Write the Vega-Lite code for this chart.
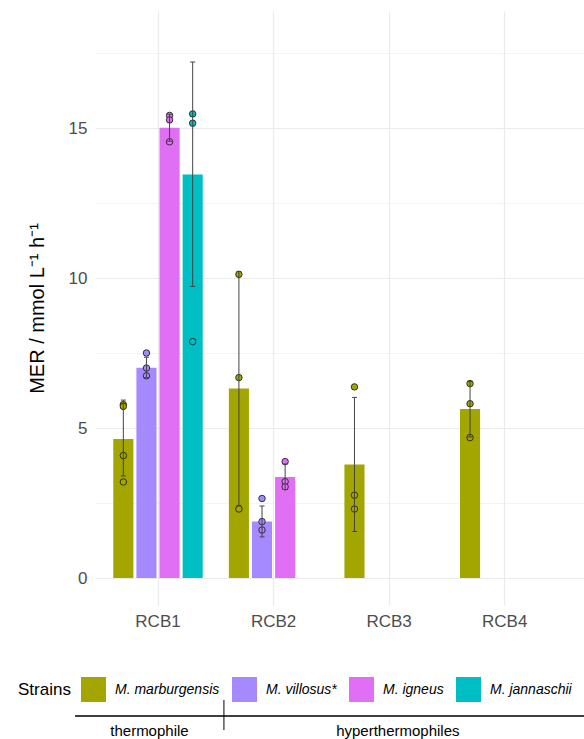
{
  "$schema": "https://vega.github.io/schema/vega-lite/v6.json",
  "background": "white",
  "padding": {"left": 18, "top": 11, "right": 0, "bottom": 0},
  "spacing": 70,
  "config": {
    "font": "Liberation Sans",
    "view": {"stroke": null}
  },
  "datasets": {
    "bars": [
      {"rcb": "RCB1", "strain": "M. marburgensis", "mean": 4.63, "lo": 3.40, "hi": 5.93},
      {"rcb": "RCB1", "strain": "M. villosus*", "mean": 7.01, "lo": 6.68, "hi": 7.36},
      {"rcb": "RCB1", "strain": "M. igneus", "mean": 15.01, "lo": 14.56, "hi": 15.46},
      {"rcb": "RCB1", "strain": "M. jannaschii", "mean": 13.45, "lo": 9.72, "hi": 17.20},
      {"rcb": "RCB2", "strain": "M. marburgensis", "mean": 6.32, "lo": 2.42, "hi": 10.22},
      {"rcb": "RCB2", "strain": "M. villosus*", "mean": 1.88, "lo": 1.37, "hi": 2.40},
      {"rcb": "RCB2", "strain": "M. igneus", "mean": 3.37, "lo": 2.95, "hi": 3.80},
      {"rcb": "RCB3", "strain": "M. marburgensis", "mean": 3.78, "lo": 1.55, "hi": 6.02},
      {"rcb": "RCB4", "strain": "M. marburgensis", "mean": 5.63, "lo": 4.70, "hi": 6.55}
    ],
    "points": [
      {"rcb": "RCB1", "strain": "M. marburgensis", "value": 5.78},
      {"rcb": "RCB1", "strain": "M. marburgensis", "value": 5.72},
      {"rcb": "RCB1", "strain": "M. marburgensis", "value": 4.08},
      {"rcb": "RCB1", "strain": "M. marburgensis", "value": 3.20},
      {"rcb": "RCB1", "strain": "M. villosus*", "value": 7.50},
      {"rcb": "RCB1", "strain": "M. villosus*", "value": 7.00},
      {"rcb": "RCB1", "strain": "M. villosus*", "value": 6.74},
      {"rcb": "RCB1", "strain": "M. igneus", "value": 15.42},
      {"rcb": "RCB1", "strain": "M. igneus", "value": 15.27},
      {"rcb": "RCB1", "strain": "M. igneus", "value": 14.54},
      {"rcb": "RCB1", "strain": "M. jannaschii", "value": 15.47},
      {"rcb": "RCB1", "strain": "M. jannaschii", "value": 15.16},
      {"rcb": "RCB1", "strain": "M. jannaschii", "value": 7.88},
      {"rcb": "RCB2", "strain": "M. marburgensis", "value": 10.12},
      {"rcb": "RCB2", "strain": "M. marburgensis", "value": 6.68},
      {"rcb": "RCB2", "strain": "M. marburgensis", "value": 2.30},
      {"rcb": "RCB2", "strain": "M. villosus*", "value": 2.65},
      {"rcb": "RCB2", "strain": "M. villosus*", "value": 1.88},
      {"rcb": "RCB2", "strain": "M. villosus*", "value": 1.60},
      {"rcb": "RCB2", "strain": "M. igneus", "value": 3.88},
      {"rcb": "RCB2", "strain": "M. igneus", "value": 3.21},
      {"rcb": "RCB2", "strain": "M. igneus", "value": 3.04},
      {"rcb": "RCB3", "strain": "M. marburgensis", "value": 6.37},
      {"rcb": "RCB3", "strain": "M. marburgensis", "value": 2.76},
      {"rcb": "RCB3", "strain": "M. marburgensis", "value": 2.30},
      {"rcb": "RCB4", "strain": "M. marburgensis", "value": 6.48},
      {"rcb": "RCB4", "strain": "M. marburgensis", "value": 5.81},
      {"rcb": "RCB4", "strain": "M. marburgensis", "value": 4.68}
    ],
    "groups": [
      {"group": "thermophile", "start": 0, "end": 0.292, "mid": 0.146},
      {"group": "hyperthermophiles", "start": 0.292, "end": 0.974, "mid": 0.633}
    ]
  },
  "vconcat": [
    {
      "width": 490,
      "height": 594,
      "encoding": {
        "x": {
          "field": "rcb", "type": "nominal", "title": null,
          "scale": {"domain": ["RCB1", "RCB2", "RCB3", "RCB4"], "paddingInner": 0.2, "paddingOuter": 0.22, "align": 0.33},
          "axis": {"labelFontSize": 17, "labelColor": "#4D4D4D", "labelPadding": 8, "labelAngle": 0, "ticks": false, "domain": false, "grid": true, "gridColor": "#EBEBEB", "gridWidth": 1.2}
        },
        "xOffset": {
          "field": "strain", "type": "nominal",
          "scale": {"domain": ["M. marburgensis", "M. villosus*", "M. igneus", "M. jannaschii"], "paddingInner": 0.13, "paddingOuter": 0.065}
        }
      },
      "layer": [
        {
          "data": {"name": "bars"},
          "mark": {"type": "bar"},
          "encoding": {
            "y": {
              "field": "mean", "type": "quantitative", "title": "MER / mmol L⁻¹ h⁻¹",
              "scale": {"domain": [-0.9, 18.9], "nice": false, "zero": false},
              "axis": {
                "values": [0, 2.5, 5, 7.5, 10, 12.5, 15, 17.5],
                "labelExpr": "datum.value % 5 === 0 ? datum.label : ''",
                "labelFontSize": 17, "labelColor": "#4D4D4D", "labelPadding": 8,
                "titleFontSize": 20, "titleFontWeight": "normal", "titleColor": "black", "titlePadding": 21,
                "ticks": false, "domain": false,
                "gridColor": "#EBEBEB",
                "gridWidth": {"condition": {"test": "datum.value % 5 === 0", "value": 1.2}, "value": 0.6}
              }
            },
            "color": {
              "field": "strain", "type": "nominal", "title": "Strains",
              "scale": {"domain": ["M. marburgensis", "M. villosus*", "M. igneus", "M. jannaschii"], "range": ["#A3A500", "#A58AFF", "#E16FF6", "#00BFC4"]},
              "legend": {
                "orient": "none", "legendX": -77, "legendY": 666,
                "direction": "horizontal", "titleOrient": "left",
                "titleFontSize": 17, "titleFontWeight": "normal", "titleColor": "black", "titlePadding": 10,
                "labelFontSize": 14, "labelFontStyle": "italic", "labelColor": "black", "labelOffset": 9,
                "symbolType": "square", "symbolSize": 625, "symbolStrokeWidth": 0, "symbolOpacity": 1,
                "columnPadding": 12
              }
            }
          }
        },
        {
          "data": {"name": "points"},
          "mark": {"type": "circle", "size": 42, "opacity": 1, "stroke": "#222222", "strokeWidth": 0.9},
          "encoding": {
            "y": {"field": "value", "type": "quantitative"},
            "color": {"field": "strain", "type": "nominal"}
          }
        },
        {
          "data": {"name": "bars"},
          "mark": {"type": "rule", "color": "#444444", "strokeWidth": 1},
          "encoding": {
            "y": {"field": "lo", "type": "quantitative"},
            "y2": {"field": "hi"}
          }
        },
        {
          "data": {"name": "bars"},
          "mark": {"type": "tick", "orient": "horizontal", "size": 5, "thickness": 1, "color": "#444444", "opacity": 1},
          "encoding": {
            "y": {"field": "lo", "type": "quantitative"}
          }
        },
        {
          "data": {"name": "bars"},
          "mark": {"type": "tick", "orient": "horizontal", "size": 5, "thickness": 1, "color": "#444444", "opacity": 1},
          "encoding": {
            "y": {"field": "hi", "type": "quantitative"}
          }
        }
      ]
    },
    {
      "width": 490,
      "height": 40,
      "data": {"name": "groups"},
      "layer": [
        {
          "mark": {"type": "rule", "color": "black", "strokeWidth": 1.2},
          "encoding": {
            "x": {"datum": 0, "type": "quantitative", "scale": {"domain": [0.0392, 1], "nice": false, "zero": false}, "axis": null},
            "x2": {"datum": 1},
            "y": {"datum": 0.6, "type": "quantitative", "scale": {"domain": [0, 1], "nice": false}, "axis": null}
          }
        },
        {
          "transform": [{"filter": "datum.start > 0"}],
          "mark": {"type": "rule", "color": "black", "strokeWidth": 1},
          "encoding": {
            "x": {"field": "start", "type": "quantitative"},
            "y": {"datum": 1, "type": "quantitative"},
            "y2": {"datum": 0.25}
          }
        },
        {
          "mark": {"type": "text", "fontSize": 15, "baseline": "middle", "align": "center", "color": "black"},
          "encoding": {
            "x": {"field": "mid", "type": "quantitative"},
            "y": {"datum": 0.22, "type": "quantitative"},
            "text": {"field": "group"}
          }
        }
      ]
    }
  ]
}
